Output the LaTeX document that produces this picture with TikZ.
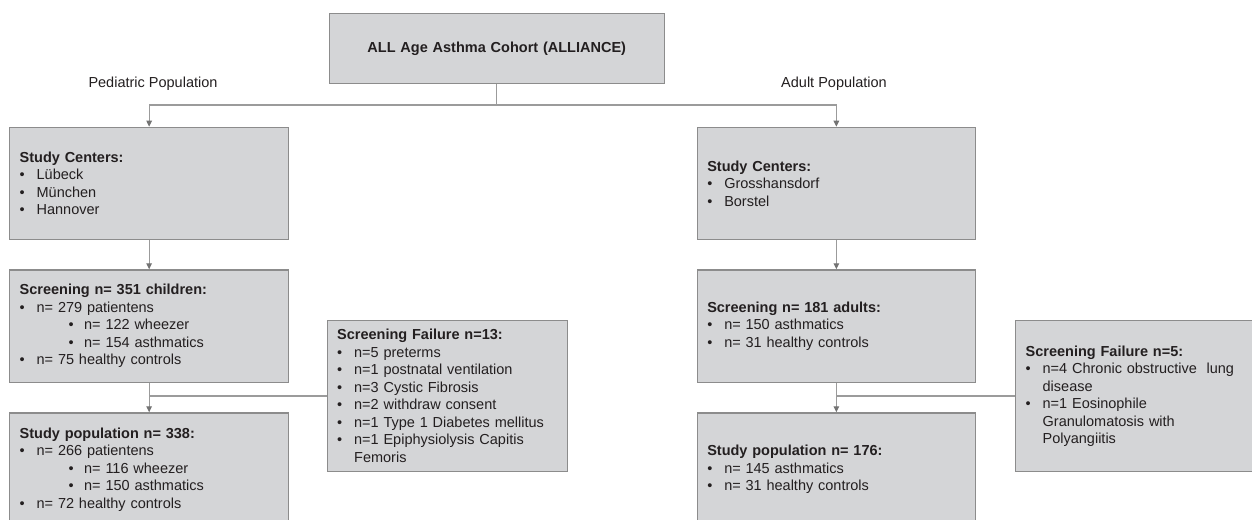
\documentclass[tikz,border=0pt]{standalone}
\usepackage{fontspec}
\setmainfont{Liberation Sans}
\usetikzlibrary{arrows.meta}
\definecolor{boxfill}{RGB}{212,213,215}
\definecolor{boxline}{RGB}{140,140,140}
\definecolor{conn}{RGB}{155,155,155}
\definecolor{arrowc}{RGB}{115,115,115}
\definecolor{txt}{RGB}{35,31,32}
\newcommand\fs{\fontsize{14.5pt}{17.5pt}\selectfont}
\newcommand\bul{\makebox[17pt][l]{•}}
\newcommand\subbul{\makebox[64.5pt][l]{\hspace{49pt}•}}
\newcommand\cont{\makebox[17pt]{}}
\begin{document}
\begin{tikzpicture}[x=1pt,y=-1pt,
  box/.style={draw=boxline, fill=boxfill, line width=1.3pt, rectangle,
    inner xsep=10pt, inner ysep=0pt, align=left, font=\fs, text=txt, anchor=north west},
  lbl/.style={font=\fs, text=txt, inner sep=0pt},
  ln/.style={draw=conn, line width=1.1pt},
  arr/.style={draw=conn, line width=1.1pt, -{Triangle[width=5.5pt,length=6pt,color=arrowc]}}]
\useasboundingbox (0,0) rectangle (1252,519);
\fill[white] (0,0) rectangle (1252,519);
\clip (0,0) rectangle (1252,519);

% title
\node[box, align=center, font=\fs\bfseries, text width=315pt, minimum width=335pt, minimum height=70pt] (top) at (328.6,12.7) {ALL Age Asthma Cohort (ALLIANCE)};

\node[lbl] (ped) at (153,83.3) {Pediatric Population};
\node[lbl] (adu) at (834,83.3) {Adult Population};

% pediatric column
\node[box, text width=259pt, minimum width=279pt, minimum height=112.3pt] (sc1) at (9,126.7)
 {\textbf{Study Centers:}\\ \bul Lübeck\\ \bul München\\ \bul Hannover};
\node[box, text width=259pt, minimum width=279pt, minimum height=112.4pt] (scr1) at (9,269.3)
 {\textbf{Screening n= 351 children:}\\ \bul n= 279 patientens\\ \subbul n= 122 wheezer\\ \subbul n= 154 asthmatics\\ \bul n= 75 healthy controls};
\node[box, text width=259pt, minimum width=279pt, minimum height=113pt] (sp1) at (9,412.3)
 {\textbf{Study population n= 338:}\\ \bul n= 266 patientens\\ \subbul n= 116 wheezer\\ \subbul n= 150 asthmatics\\ \bul n= 72 healthy controls};
\node[box, text width=220.5pt, minimum width=240.5pt, minimum height=150.7pt] (fail1) at (326.5,320)
 {\textbf{Screening Failure n=13:}\\ \bul n=5 preterms\\ \bul n=1 postnatal ventilation\\ \bul n=3 Cystic Fibrosis\\ \bul n=2 withdraw consent\\ \bul n=1 Type 1 Diabetes mellitus\\ \bul n=1 Epiphysiolysis Capitis\\ \cont Femoris};

% adult column
\node[box, text width=258.2pt, minimum width=278.2pt, minimum height=112.3pt] (sc2) at (696.6,126.7)
 {\textbf{Study Centers:}\\ \bul Grosshansdorf\\ \bul Borstel};
\node[box, text width=258.2pt, minimum width=278.2pt, minimum height=112.4pt] (scr2) at (696.6,269.3)
 {\textbf{Screening n= 181 adults:}\\ \bul n= 150 asthmatics\\ \bul n= 31 healthy controls};
\node[box, text width=258.2pt, minimum width=278.2pt, minimum height=113pt] (sp2) at (696.6,412.3)
 {\textbf{Study population n= 176:}\\ \bul n= 145 asthmatics\\ \bul n= 31 healthy controls};
\node[box, text width=230pt, minimum width=250pt, minimum height=150.7pt] (fail2) at (1015,320)
 {\textbf{Screening Failure n=5:}\\ \bul n=4 Chronic obstructive\ \ lung\\ \cont disease\\ \bul n=1 Eosinophile\\ \cont Granulomatosis with\\ \cont Polyangiitis};

% connectors
\draw[ln] (top.south) -- (top.south |- 0,105) coordinate (j);
\draw[arr] (j) -| (sc1.north);
\draw[arr] (j) -| (sc2.north);
\draw[arr] (sc1.south) -- (scr1.north);
\draw[arr] (sc2.south) -- (scr2.north);
\draw[arr] (scr1.south) -- (sp1.north);
\draw[arr] (scr2.south) -- (sp2.north);
\draw[ln] (fail1.west) -- (fail1.west -| scr1.south);
\draw[ln] (fail2.west) -- (fail2.west -| scr2.south);
\end{tikzpicture}
\end{document}
